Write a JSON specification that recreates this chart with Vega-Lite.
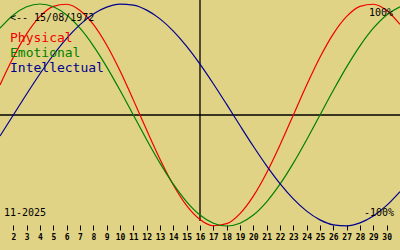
{
  "$schema": "https://vega.github.io/schema/vega-lite/v6.json",
  "width": 400,
  "height": 225,
  "autosize": {"type": "none"},
  "padding": {"left": 0, "top": 0, "right": 0, "bottom": 25},
  "background": "#E1D385",
  "view": {"stroke": null, "fill": "#E1D385"},
  "datasets": {
    "curves": [
      {"day":1,"series":"Physical","value":0.2698},{"day":2,"series":"Physical","value":0.5196},{"day":3,"series":"Physical","value":0.7308},{"day":4,"series":"Physical","value":0.8879},{"day":5,"series":"Physical","value":0.9791},{"day":6,"series":"Physical","value":0.9977},{"day":7,"series":"Physical","value":0.9423},{"day":8,"series":"Physical","value":0.8170},{"day":9,"series":"Physical","value":0.6311},{"day":10,"series":"Physical","value":0.3984},{"day":11,"series":"Physical","value":0.1362},{"day":12,"series":"Physical","value":-0.1362},{"day":13,"series":"Physical","value":-0.3984},{"day":14,"series":"Physical","value":-0.6311},{"day":15,"series":"Physical","value":-0.8170},{"day":16,"series":"Physical","value":-0.9423},{"day":17,"series":"Physical","value":-0.9977},{"day":18,"series":"Physical","value":-0.9791},{"day":19,"series":"Physical","value":-0.8879},{"day":20,"series":"Physical","value":-0.7308},{"day":21,"series":"Physical","value":-0.5196},{"day":22,"series":"Physical","value":-0.2698},{"day":23,"series":"Physical","value":0},{"day":24,"series":"Physical","value":0.2698},{"day":25,"series":"Physical","value":0.5196},{"day":26,"series":"Physical","value":0.7308},{"day":27,"series":"Physical","value":0.8879},{"day":28,"series":"Physical","value":0.9791},{"day":29,"series":"Physical","value":0.9977},{"day":30,"series":"Physical","value":0.9423},{"day":31,"series":"Physical","value":0.8170},
      {"day":1,"series":"Emotional","value":0.7818},{"day":2,"series":"Emotional","value":0.9010},{"day":3,"series":"Emotional","value":0.9749},{"day":4,"series":"Emotional","value":1},{"day":5,"series":"Emotional","value":0.9749},{"day":6,"series":"Emotional","value":0.9010},{"day":7,"series":"Emotional","value":0.7818},{"day":8,"series":"Emotional","value":0.6235},{"day":9,"series":"Emotional","value":0.4339},{"day":10,"series":"Emotional","value":0.2225},{"day":11,"series":"Emotional","value":0},{"day":12,"series":"Emotional","value":-0.2225},{"day":13,"series":"Emotional","value":-0.4339},{"day":14,"series":"Emotional","value":-0.6235},{"day":15,"series":"Emotional","value":-0.7818},{"day":16,"series":"Emotional","value":-0.9010},{"day":17,"series":"Emotional","value":-0.9749},{"day":18,"series":"Emotional","value":-1},{"day":19,"series":"Emotional","value":-0.9749},{"day":20,"series":"Emotional","value":-0.9010},{"day":21,"series":"Emotional","value":-0.7818},{"day":22,"series":"Emotional","value":-0.6235},{"day":23,"series":"Emotional","value":-0.4339},{"day":24,"series":"Emotional","value":-0.2225},{"day":25,"series":"Emotional","value":0},{"day":26,"series":"Emotional","value":0.2225},{"day":27,"series":"Emotional","value":0.4339},{"day":28,"series":"Emotional","value":0.6235},{"day":29,"series":"Emotional","value":0.7818},{"day":30,"series":"Emotional","value":0.9010},{"day":31,"series":"Emotional","value":0.9749},
      {"day":1,"series":"Intellectual","value":-0.1893},{"day":2,"series":"Intellectual","value":0},{"day":3,"series":"Intellectual","value":0.1893},{"day":4,"series":"Intellectual","value":0.3717},{"day":5,"series":"Intellectual","value":0.5406},{"day":6,"series":"Intellectual","value":0.6901},{"day":7,"series":"Intellectual","value":0.8146},{"day":8,"series":"Intellectual","value":0.9096},{"day":9,"series":"Intellectual","value":0.9718},{"day":10,"series":"Intellectual","value":0.9989},{"day":11,"series":"Intellectual","value":0.9898},{"day":12,"series":"Intellectual","value":0.9450},{"day":13,"series":"Intellectual","value":0.8660},{"day":14,"series":"Intellectual","value":0.7557},{"day":15,"series":"Intellectual","value":0.6182},{"day":16,"series":"Intellectual","value":0.4582},{"day":17,"series":"Intellectual","value":0.2817},{"day":18,"series":"Intellectual","value":0.0951},{"day":19,"series":"Intellectual","value":-0.0951},{"day":20,"series":"Intellectual","value":-0.2817},{"day":21,"series":"Intellectual","value":-0.4582},{"day":22,"series":"Intellectual","value":-0.6182},{"day":23,"series":"Intellectual","value":-0.7557},{"day":24,"series":"Intellectual","value":-0.8660},{"day":25,"series":"Intellectual","value":-0.9450},{"day":26,"series":"Intellectual","value":-0.9898},{"day":27,"series":"Intellectual","value":-0.9989},{"day":28,"series":"Intellectual","value":-0.9718},{"day":29,"series":"Intellectual","value":-0.9096},{"day":30,"series":"Intellectual","value":-0.8146},{"day":31,"series":"Intellectual","value":-0.6901}
    ],
    "legendtext": [
      {"series":"Physical","day":1.75,"value":0.658},
      {"series":"Emotional","day":1.75,"value":0.522},
      {"series":"Intellectual","day":1.75,"value":0.383}
    ],
    "notes": [
      {"label":"<-- 15/08/1972","day":1.75,"value":0.847},
      {"label":"100%","day":28.67,"value":0.892},
      {"label":"-100%","day":28.3,"value":-0.910},
      {"label":"11-2025","day":1.3,"value":-0.910}
    ],
    "today": [{"day":16,"top":1.036,"bottom":-0.955}],
    "zero": [{"value":0}]
  },
  "layer": [
    {
      "data": {"name": "zero"},
      "mark": {"type": "rule", "color": "#000000", "strokeWidth": 1.3},
      "encoding": {"y": {"field": "value", "type": "quantitative", "scale": {"domain": [-0.991, 1.036], "nice": false, "zero": false}, "axis": null}}
    },
    {
      "data": {"name": "today"},
      "mark": {"type": "rule", "color": "#000000", "strokeWidth": 1.3},
      "encoding": {
        "x": {"field": "day", "type": "quantitative", "scale": {"domain": [1, 31], "nice": false, "zero": false},
          "axis": {"values": [2,3,4,5,6,7,8,9,10,11,12,13,14,15,16,17,18,19,20,21,22,23,24,25,26,27,28,29,30], "tickCount": 60, "format": "d", "title": null, "domain": false, "grid": false, "tickColor": "#000000", "tickSize": 5, "tickWidth": 1, "labelColor": "#000000", "labelFont": "DejaVu Sans Mono", "labelFontSize": 8, "labelFontWeight": "bold", "labelPadding": 3, "labelOverlap": false, "labelFlush": false, "labelBound": false}},
        "y": {"field": "top", "type": "quantitative"},
        "y2": {"field": "bottom"}
      }
    },
    {
      "data": {"name": "curves"},
      "mark": {"type": "line", "strokeWidth": 1.2, "interpolate": "monotone"},
      "encoding": {
        "x": {"field": "day", "type": "quantitative"},
        "y": {"field": "value", "type": "quantitative"},
        "color": {"field": "series", "type": "nominal", "scale": {"domain": ["Physical", "Emotional", "Intellectual"], "range": ["#f00000", "#008000", "#000090"]}, "legend": null}
      }
    },
    {
      "data": {"name": "legendtext"},
      "mark": {"type": "text", "align": "left", "baseline": "alphabetic", "font": "DejaVu Sans Mono", "fontSize": 13},
      "encoding": {
        "x": {"field": "day", "type": "quantitative"},
        "y": {"field": "value", "type": "quantitative"},
        "text": {"field": "series"},
        "color": {"field": "series", "type": "nominal"}
      }
    },
    {
      "data": {"name": "notes"},
      "mark": {"type": "text", "align": "left", "baseline": "alphabetic", "font": "DejaVu Sans Mono", "fontSize": 10, "color": "#000000"},
      "encoding": {
        "x": {"field": "day", "type": "quantitative"},
        "y": {"field": "value", "type": "quantitative"},
        "text": {"field": "label"}
      }
    }
  ]
}
